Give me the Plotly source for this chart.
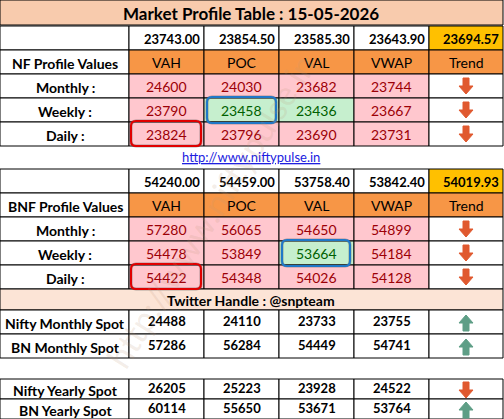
import plotly.graph_objects as go

title = "Market Profile Table : 15-05-2026"
cols = ["VAH", "POC", "VAL", "VWAP", "Trend"]
nf_ref = ["23743.00", "23854.50", "23585.30", "23643.90", "23694.57"]
bnf_ref = ["54240.00", "54459.00", "53758.40", "53842.40", "54019.93"]
row_labels = ["Monthly :", "Weekly :", "Daily :"]
nf_vals = [[24600, 24030, 23682, 23744], [23790, 23458, 23436, 23667], [23824, 23796, 23690, 23731]]
nf_trend = ["down", "down", "down"]
nf_green = [(1, 1), (1, 2)]
bnf_vals = [[57280, 56065, 54650, 54899], [54478, 53849, 53664, 54184], [54422, 54348, 54026, 54128]]
bnf_trend = ["down", "down", "down"]
bnf_green = [(1, 2)]
spot1_labels = ["Nifty Monthly Spot", "BN Monthly Spot"]
spot1_vals = [[24488, 24110, 23733, 23755], [57286, 56284, 54449, 54741]]
spot1_trend = ["up", "up"]
spot2_labels = ["Nifty Yearly Spot", "BN Yearly Spot"]
spot2_vals = [[26205, 25223, 23928, 24522], [60114, 55650, 53671, 53764]]
spot2_trend = ["down", "up"]

W, H = 504, 419
xs = [0, 129, 204, 279, 354, 429, 503]
FONT = "Lato"
shapes, ann = [], []

def rect(x0, y0, x1, y1, fill, line="black", lw=1):
    shapes.append(dict(type="rect", x0=x0, y0=y0, x1=x1, y1=y1, fillcolor=fill,
                       line=dict(color=line, width=lw), layer="below"))

def text(x, y, t, size=13, color="black", bold=True):
    ann.append(dict(x=x, y=y, text=f"<b>{t}</b>" if bold else t, showarrow=False,
                    font=dict(family=FONT, size=size, color=color), xanchor="center", yanchor="middle"))

def arrow(cx, cy, kind):
    c = "#E0592F" if kind == "down" else "#5E9E86"
    s = 1 if kind == "down" else -1
    pts = [(-3, -8), (3, -8), (3, 0), (7, 0), (0, 8), (-7, 0), (-3, 0)]
    p = "M " + " L ".join(f"{cx+a},{cy+s*b}" for a, b in pts) + " Z"
    shapes.append(dict(type="path", path=p, fillcolor=c, line=dict(color=c, width=1)))

def rounded(x0, y0, x1, y1, color):
    r = 5
    p = (f"M {x0+r},{y0} L {x1-r},{y0} Q {x1},{y0} {x1},{y0+r} L {x1},{y1-r} Q {x1},{y1} {x1-r},{y1} "
         f"L {x0+r},{y1} Q {x0},{y1} {x0},{y1-r} L {x0},{y0+r} Q {x0},{y0} {x0+r},{y0} Z")
    shapes.append(dict(type="path", path=p, line=dict(color="rgba(80,80,80,0.45)", width=3)))
    shapes.append(dict(type="path", path=p, line=dict(color=color, width=2)))

rect(0, 0, 503, 25, "#F8CBAD")
text(251, 13, title, size=17)

def block(y0, ref, header, labels, vals, trend, green):
    rh = 24
    rect(0, y0, 129, y0 + rh, "white")
    for i, v in enumerate(ref):
        rect(xs[i+1], y0, xs[i+2], y0 + rh, "#FFC000" if i == 4 else "white")
        ann.append(dict(x=xs[i+2]-2, y=y0+rh/2+1, text=f"<b>{v}</b>", showarrow=False, xanchor="right",
                        font=dict(family=FONT, size=13, color="black")))
    y = y0 + rh
    rect(0, y, 129, y + rh, "white")
    text(65, y + 13, header, size=14)
    for i, c in enumerate(cols):
        rect(xs[i+1], y, xs[i+2], y + rh, "#F79646")
        text((xs[i+1]+xs[i+2])/2, y + 12, c, size=14, bold=False)
    for r, lab in enumerate(labels):
        yy = y + rh * (r + 1)
        rect(0, yy, 129, yy + rh, "white")
        text(65, yy + 13, lab, size=14)
        for i, v in enumerate(vals[r]):
            g = (r, i) in green
            rect(xs[i+1], yy, xs[i+2], yy + rh, "#C6EFCE" if g else "#FFC7CE")
            text((xs[i+1]+xs[i+2])/2, yy + 12, v, size=14, color="#006100" if g else "#9C0006", bold=False)
        rect(xs[5], yy, xs[6], yy + rh, "white")
        arrow((xs[5]+xs[6])/2, yy + 12, trend[r])

block(26, nf_ref, "NF Profile Values", row_labels, nf_vals, nf_trend, nf_green)
rounded(131, 121, 201, 146, "#E00000")
rounded(207, 97, 276, 123, "#1F78C8")
text(251, 157, "<span style='text-decoration:underline'>http://www.niftypulse.in</span>", size=13, color="#2020E0", bold=False)
block(169, bnf_ref, "BNF Profile Values", row_labels, bnf_vals, bnf_trend, bnf_green)
rounded(131, 264, 201, 289, "#E00000")
rounded(282, 240, 350, 266, "#1F78C8")

rect(0, 289, 503, 310, "#FCE4D6")
text(251, 300, "Twitter Handle : @snpteam", size=14)

def spot(y0, labels, vals, trend, rh):
    for r, lab in enumerate(labels):
        yy = y0 + rh * r
        rect(0, yy, 129, yy + rh, "white")
        text(65, yy + rh/2 + 1, lab, size=14)
        for i, v in enumerate(vals[r]):
            rect(xs[i+1], yy, xs[i+2], yy + rh, "white")
            text((xs[i+1]+xs[i+2])/2, yy + rh/2 - 1, v, size=13)
        rect(xs[5], yy, xs[6], yy + rh, "white")
        arrow((xs[5]+xs[6])/2, yy + rh/2 + 1, trend[r])

spot(310, spot1_labels, spot1_vals, spot1_trend, 24)
spot(379, spot2_labels, spot2_vals, spot2_trend, 20)

ann.append(dict(x=210, y=210, text="http://www.niftypulse.in", showarrow=False, textangle=-58,
                font=dict(family=FONT, size=34, color="rgba(190,150,120,0.18)")))

fig = go.Figure()
fig.update_layout(width=W, height=H, margin=dict(l=0, r=0, t=0, b=0), paper_bgcolor="white",
                  plot_bgcolor="white", shapes=shapes, annotations=ann, showlegend=False,
                  xaxis=dict(range=[0, W], visible=False, fixedrange=True),
                  yaxis=dict(range=[H, 0], visible=False, fixedrange=True))
fig.write_html("out.html", config={"displayModeBar": False},
               post_script="document.body.style.margin='0';document.body.style.overflow='hidden';")
